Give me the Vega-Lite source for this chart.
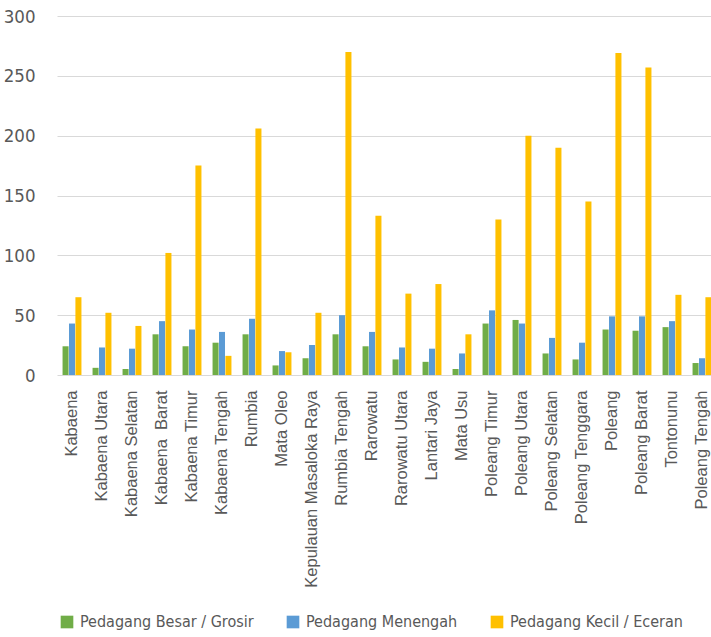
{
  "$schema": "https://vega.github.io/schema/vega-lite/v6.json",
  "autosize": "none",
  "width": 654,
  "height": 359,
  "padding": {"left": 57, "top": 16, "right": 0, "bottom": 262},
  "background": "white",
  "config": {
    "view": {"stroke": null},
    "font": "Liberation Sans"
  },
  "data": {
    "values": [
      {"k": "Kabaena", "j": "Pedagang Besar / Grosir", "v": 24},
      {"k": "Kabaena", "j": "Pedagang Menengah", "v": 43},
      {"k": "Kabaena", "j": "Pedagang Kecil / Eceran", "v": 65},
      {"k": "Kabaena Utara", "j": "Pedagang Besar / Grosir", "v": 6},
      {"k": "Kabaena Utara", "j": "Pedagang Menengah", "v": 23},
      {"k": "Kabaena Utara", "j": "Pedagang Kecil / Eceran", "v": 52},
      {"k": "Kabaena Selatan", "j": "Pedagang Besar / Grosir", "v": 5},
      {"k": "Kabaena Selatan", "j": "Pedagang Menengah", "v": 22},
      {"k": "Kabaena Selatan", "j": "Pedagang Kecil / Eceran", "v": 41},
      {"k": "Kabaena\u00a0 Barat", "j": "Pedagang Besar / Grosir", "v": 34},
      {"k": "Kabaena\u00a0 Barat", "j": "Pedagang Menengah", "v": 45},
      {"k": "Kabaena\u00a0 Barat", "j": "Pedagang Kecil / Eceran", "v": 102},
      {"k": "Kabaena Timur", "j": "Pedagang Besar / Grosir", "v": 24},
      {"k": "Kabaena Timur", "j": "Pedagang Menengah", "v": 38},
      {"k": "Kabaena Timur", "j": "Pedagang Kecil / Eceran", "v": 175},
      {"k": "Kabaena Tengah", "j": "Pedagang Besar / Grosir", "v": 27},
      {"k": "Kabaena Tengah", "j": "Pedagang Menengah", "v": 36},
      {"k": "Kabaena Tengah", "j": "Pedagang Kecil / Eceran", "v": 16},
      {"k": "Rumbia", "j": "Pedagang Besar / Grosir", "v": 34},
      {"k": "Rumbia", "j": "Pedagang Menengah", "v": 47},
      {"k": "Rumbia", "j": "Pedagang Kecil / Eceran", "v": 206},
      {"k": "Mata Oleo", "j": "Pedagang Besar / Grosir", "v": 8},
      {"k": "Mata Oleo", "j": "Pedagang Menengah", "v": 20},
      {"k": "Mata Oleo", "j": "Pedagang Kecil / Eceran", "v": 19},
      {"k": "Kepulauan Masaloka Raya", "j": "Pedagang Besar / Grosir", "v": 14},
      {"k": "Kepulauan Masaloka Raya", "j": "Pedagang Menengah", "v": 25},
      {"k": "Kepulauan Masaloka Raya", "j": "Pedagang Kecil / Eceran", "v": 52},
      {"k": "Rumbia Tengah", "j": "Pedagang Besar / Grosir", "v": 34},
      {"k": "Rumbia Tengah", "j": "Pedagang Menengah", "v": 50},
      {"k": "Rumbia Tengah", "j": "Pedagang Kecil / Eceran", "v": 270},
      {"k": "Rarowatu", "j": "Pedagang Besar / Grosir", "v": 24},
      {"k": "Rarowatu", "j": "Pedagang Menengah", "v": 36},
      {"k": "Rarowatu", "j": "Pedagang Kecil / Eceran", "v": 133},
      {"k": "Rarowatu Utara", "j": "Pedagang Besar / Grosir", "v": 13},
      {"k": "Rarowatu Utara", "j": "Pedagang Menengah", "v": 23},
      {"k": "Rarowatu Utara", "j": "Pedagang Kecil / Eceran", "v": 68},
      {"k": "Lantari Jaya", "j": "Pedagang Besar / Grosir", "v": 11},
      {"k": "Lantari Jaya", "j": "Pedagang Menengah", "v": 22},
      {"k": "Lantari Jaya", "j": "Pedagang Kecil / Eceran", "v": 76},
      {"k": "Mata Usu", "j": "Pedagang Besar / Grosir", "v": 5},
      {"k": "Mata Usu", "j": "Pedagang Menengah", "v": 18},
      {"k": "Mata Usu", "j": "Pedagang Kecil / Eceran", "v": 34},
      {"k": "Poleang Timur", "j": "Pedagang Besar / Grosir", "v": 43},
      {"k": "Poleang Timur", "j": "Pedagang Menengah", "v": 54},
      {"k": "Poleang Timur", "j": "Pedagang Kecil / Eceran", "v": 130},
      {"k": "Poleang Utara", "j": "Pedagang Besar / Grosir", "v": 46},
      {"k": "Poleang Utara", "j": "Pedagang Menengah", "v": 43},
      {"k": "Poleang Utara", "j": "Pedagang Kecil / Eceran", "v": 200},
      {"k": "Poleang Selatan", "j": "Pedagang Besar / Grosir", "v": 18},
      {"k": "Poleang Selatan", "j": "Pedagang Menengah", "v": 31},
      {"k": "Poleang Selatan", "j": "Pedagang Kecil / Eceran", "v": 190},
      {"k": "Poleang Tenggara", "j": "Pedagang Besar / Grosir", "v": 13},
      {"k": "Poleang Tenggara", "j": "Pedagang Menengah", "v": 27},
      {"k": "Poleang Tenggara", "j": "Pedagang Kecil / Eceran", "v": 145},
      {"k": "Poleang", "j": "Pedagang Besar / Grosir", "v": 38},
      {"k": "Poleang", "j": "Pedagang Menengah", "v": 49},
      {"k": "Poleang", "j": "Pedagang Kecil / Eceran", "v": 269},
      {"k": "Poleang Barat", "j": "Pedagang Besar / Grosir", "v": 37},
      {"k": "Poleang Barat", "j": "Pedagang Menengah", "v": 49},
      {"k": "Poleang Barat", "j": "Pedagang Kecil / Eceran", "v": 257},
      {"k": "Tontonunu", "j": "Pedagang Besar / Grosir", "v": 40},
      {"k": "Tontonunu", "j": "Pedagang Menengah", "v": 45},
      {"k": "Tontonunu", "j": "Pedagang Kecil / Eceran", "v": 67},
      {"k": "Poleang Tengah", "j": "Pedagang Besar / Grosir", "v": 10},
      {"k": "Poleang Tengah", "j": "Pedagang Menengah", "v": 14},
      {"k": "Poleang Tengah", "j": "Pedagang Kecil / Eceran", "v": 65}
    ]
  },
  "mark": {"type": "bar"},
  "encoding": {
    "x": {
      "field": "k",
      "type": "nominal",
      "sort": null,
      "scale": {"range": [0, 660], "paddingInner": 0.37, "paddingOuter": 0.185},
      "axis": {
        "title": null,
        "domain": false,
        "ticks": false,
        "labelAngle": -90,
        "labelAlign": "right",
        "labelBaseline": "middle",
        "labelPadding": 15,
        "labelFont": "Liberation Sans",
        "labelFontSize": 16.5,
        "labelColor": "#595959",
        "labelLimit": 300
      }
    },
    "xOffset": {
      "field": "j",
      "type": "nominal",
      "sort": ["Pedagang Besar / Grosir", "Pedagang Menengah", "Pedagang Kecil / Eceran"],
      "scale": {"paddingInner": 0.06}
    },
    "y": {
      "field": "v",
      "type": "quantitative",
      "scale": {"domain": [0, 300], "nice": false},
      "axis": {
        "title": null,
        "domain": false,
        "ticks": false,
        "values": [0, 50, 100, 150, 200, 250, 300],
        "labelFont": "DejaVu Sans Condensed",
        "labelFontSize": 18.5,
        "labelColor": "#595959",
        "labelPadding": 22,
        "gridColor": "#D9D9D9",
        "gridWidth": 1.2
      }
    },
    "color": {
      "field": "j",
      "type": "nominal",
      "sort": ["Pedagang Besar / Grosir", "Pedagang Menengah", "Pedagang Kecil / Eceran"],
      "scale": {
        "domain": ["Pedagang Besar / Grosir", "Pedagang Menengah", "Pedagang Kecil / Eceran"],
        "range": ["#70AD47", "#5B9BD5", "#FFC000"]
      },
      "legend": {
        "title": null,
        "orient": "none",
        "direction": "horizontal",
        "legendX": 2,
        "legendY": 598,
        "padding": 0,
        "symbolType": "square",
        "symbolSize": 160,
        "symbolStrokeWidth": 0,
        "labelFont": "DejaVu Sans Condensed",
        "labelFontSize": 16,
        "labelColor": "#595959",
        "labelOffset": 5,
        "columnPadding": 31,
        "labelLimit": 300
      }
    }
  }
}
